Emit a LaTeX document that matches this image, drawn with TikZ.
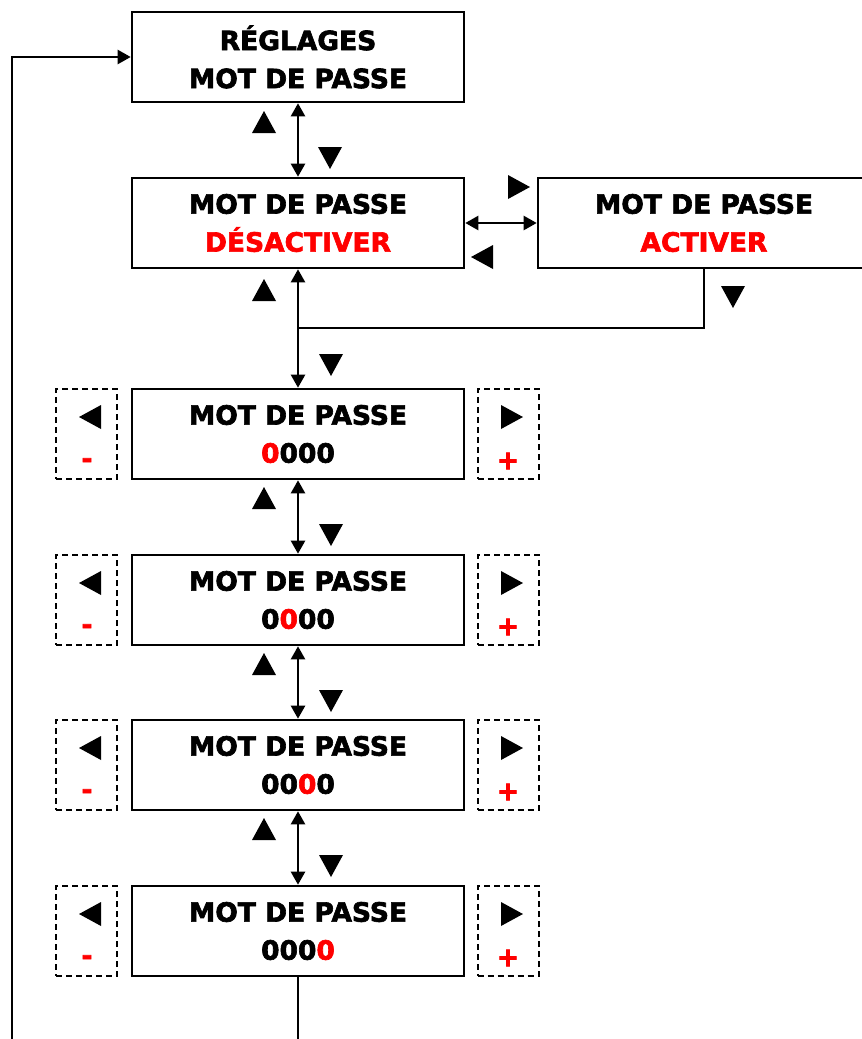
\documentclass[tikz,border=0pt]{standalone}
\usepackage{fontspec}
\setmainfont{DejaVu Sans}
\newfontfamily\lourd[FakeBold=2.4]{DejaVu Sans Bold}
\usetikzlibrary{arrows.meta}

\begin{document}
\begin{tikzpicture}[
    x=1pt, y=-1pt,
    font=\fontsize{26.5}{38}\selectfont\lourd,
    ecran/.style={draw, line width=2.6pt, minimum width=332pt, minimum height=90pt,
                  align=center, inner sep=0pt},
    touche/.style={draw, dashed, dash pattern=on 6pt off 4pt, line width=2pt,
                   minimum width=61pt, minimum height=90pt, inner sep=0pt},
    liaison/.style={line width=2.4pt},
    pointe/.tip={Triangle[length=13pt, width=14pt]},
    aller retour/.style={liaison, pointe-pointe},
    tri haut/.pic={\fill (-12,11) -- (12,11) -- (0,-11) -- cycle;},
    tri bas/.pic={\fill (-12,-11) -- (12,-11) -- (0,11) -- cycle;},
    tri gauche/.pic={\fill (11,-12) -- (11,12) -- (-11,0) -- cycle;},
    tri droite/.pic={\fill (-11,-12) -- (-11,12) -- (11,0) -- cycle;},
  ]
  \useasboundingbox (0,0) rectangle (862,1039);

  % --- menu reglages --------------------------------------------------
  \node[ecran] (reglages) at (298,57) {RÉGLAGES\\MOT DE PASSE};

  % --- choix desactiver / activer -------------------------------------
  \node[ecran] (desactiver) at (298,223) {MOT DE PASSE\\\textcolor{red}{DÉSACTIVER}};
  \node[ecran] (activer) at (704,223) {MOT DE PASSE\\\textcolor{red}{ACTIVER}};

  \draw[aller retour] (reglages.south) -- (desactiver.north);
  \pic at (264,122) {tri haut};
  \pic at (330,158) {tri bas};

  \draw[aller retour] (desactiver.east) -- (activer.west);
  \pic at (519,187) {tri droite};
  \pic at (482,257) {tri gauche};

  % --- saisie des quatre chiffres -------------------------------------
  \foreach \n/\y/\code in {1/434/{\color{red}0}000, 2/600/0{\color{red}0}00,
                           3/765/00{\color{red}0}0, 4/931/000{\color{red}0}}{%
    \node[ecran] (chiffre\n) at (298,\y) {MOT DE PASSE\\\code};
    \node[touche] (moins\n) at (86.5,\y) {};
    \node[touche] (plus\n) at (508,\y) {};
    \pic at (90,\y-17) {tri gauche};
    \pic at (512,\y-17) {tri droite};
    \node[text=red, inner sep=0pt] (signe moins\n) at (87,\y+29) {-};
    \node[text=red, inner sep=0pt] (signe plus\n) at (508,\y+27) {+};
  }

  % --- liaisons entre les ecrans --------------------------------------
  \coordinate (jonction) at (298,328);
  \draw[liaison] (activer.south) |- (jonction);
  \pic at (733,297) {tri bas};

  \draw[aller retour] (desactiver.south) -- (chiffre1.north);
  \pic at (264,290) {tri haut};
  \pic at (331,365) {tri bas};

  \foreach \a/\b/\y in {1/2/479, 2/3/645, 3/4/810}{%
    \draw[aller retour] (chiffre\a.south) -- (chiffre\b.north);
    \pic at (264,\y+19) {tri haut};
    \pic at (331,\y+56) {tri bas};
  }

  % --- retour au menu -------------------------------------------------
  \coordinate (bas) at (298,1039);
  \coordinate (bas gauche) at (12,1039);
  \draw[liaison] (chiffre4.south) -- (bas);
  \draw[liaison, -pointe] (bas gauche) |- (reglages.west);

\end{tikzpicture}
\end{document}
